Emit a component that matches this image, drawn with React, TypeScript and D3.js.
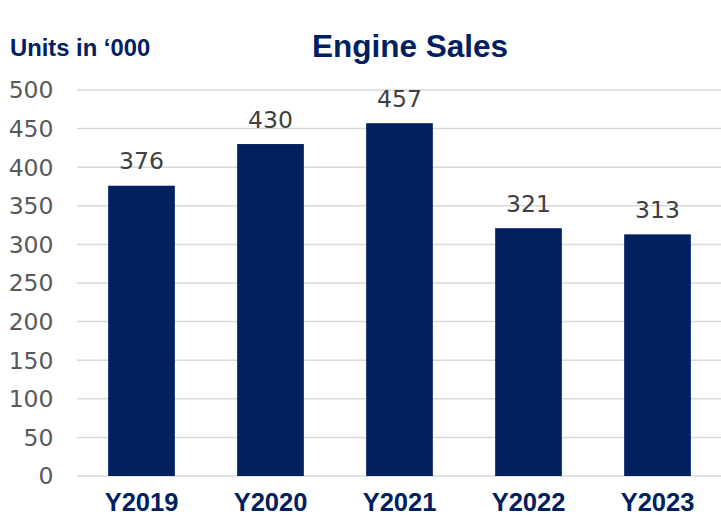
import React from "react";
import * as d3 from "d3";

const years = ["Y2019", "Y2020", "Y2021", "Y2022", "Y2023"];
const sales = [376, 430, 457, 321, 313];
const yTicks = [0, 50, 100, 150, 200, 250, 300, 350, 400, 450, 500];

const W = 721;
const H = 515;
const NAVY = "#002060";

export default function App() {
  const x = d3.scaleBand().domain(years).range([77, 722]).paddingInner(0.483).paddingOuter(0.2415);
  const y = d3.scaleLinear().domain([0, 500]).range([476, 90]);

  return (
    <svg width={W} height={H} style={{ position: "absolute", left: 0, top: 0, background: "#fff" }}>
      {/* grid + y labels */}
      {yTicks.map(t => (
        <g key={t}>
          <line x1={77} x2={721} y1={y(t)} y2={y(t)} stroke="#d9d9d9" strokeWidth={1.5} />
          <text x={53.5} y={y(t) + 8.3} textAnchor="end" fontFamily="DejaVu Sans" fontSize={23.5} fill="#595959">
            {t}
          </text>
        </g>
      ))}

      {/* bars */}
      {sales.map((v, i) => {
        const cx = (x(years[i]) as number) + x.bandwidth() / 2;
        return (
          <g key={years[i]}>
            <rect x={x(years[i])} y={y(v)} width={x.bandwidth()} height={y(0) - y(v)} fill={NAVY} />
            <text x={cx} y={y(v) - 16.4} textAnchor="middle" fontFamily="DejaVu Sans" fontSize={23.5} fill="#404040">
              {v}
            </text>
            <text x={cx} y={510.5} textAnchor="middle" fontFamily="Liberation Sans" fontWeight="bold" fontSize={25.5} fill={NAVY}>
              {years[i]}
            </text>
          </g>
        );
      })}

      <text x={410} y={57.3} textAnchor="middle" fontFamily="Liberation Sans" fontWeight="bold" fontSize={31.5} fill={NAVY}>
        Engine Sales
      </text>
      <text x={10} y={56} fontFamily="Liberation Sans" fontWeight="bold" fontSize={23.8} fill={NAVY}>
        Units in ‘000
      </text>
    </svg>
  );
}
